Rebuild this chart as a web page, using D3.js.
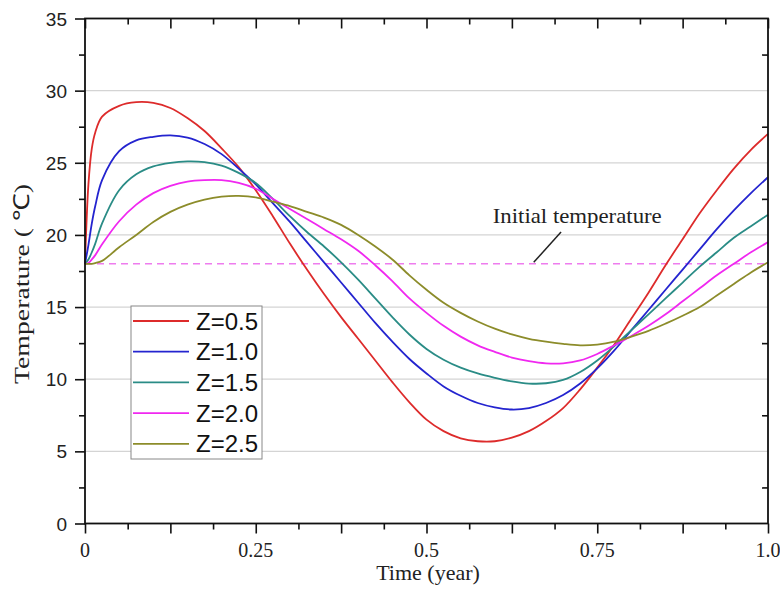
<!DOCTYPE html>
<html>
<head>
<meta charset="utf-8">
<script src="https://cdn.jsdelivr.net/npm/d3@7"></script>
<style>
  body { margin: 0; background: #fff; }
  svg { display: block; }
</style>
</head>
<body>
<div id="chart"></div>
<script>
// time axis (year) shared by every series
const times = [0, 0.005, 0.01, 0.015, 0.025, 0.05, 0.075, 0.1, 0.125, 0.15, 0.175, 0.2, 0.225, 0.25,
  0.275, 0.3, 0.325, 0.35, 0.375, 0.4, 0.425, 0.45, 0.475, 0.5, 0.525, 0.55, 0.575, 0.6, 0.625,
  0.65, 0.675, 0.7, 0.725, 0.75, 0.775, 0.8, 0.825, 0.85, 0.875, 0.9, 0.925, 0.95, 0.975, 1.0];

const z05 = [18, 23.5, 26.0, 27.1, 28.2, 28.95, 29.2, 29.15, 28.8, 28.1, 27.2, 26.0, 24.7, 23.1,
  21.3, 19.4, 17.6, 15.9, 14.3, 12.8, 11.3, 9.8, 8.4, 7.2, 6.4, 5.9, 5.7, 5.7,
  5.95, 6.4, 7.1, 8.0, 9.3, 10.8, 12.4, 14.2, 16.0, 17.9, 19.7, 21.5, 23.1, 24.6, 25.9, 27.0];
const z10 = [18, 19.3, 20.8, 22.0, 23.8, 25.8, 26.55, 26.8, 26.9, 26.75, 26.3, 25.6, 24.6, 23.5,
  22.2, 20.9, 19.5, 18.1, 16.7, 15.3, 13.9, 12.6, 11.4, 10.4, 9.5, 8.85, 8.35, 8.05,
  7.9, 8.0, 8.35, 8.9, 9.7, 10.75, 12.0, 13.4, 14.8, 16.2, 17.6, 19.0, 20.4, 21.7, 22.9, 24.0];
const z15 = [18, 18.3, 18.8, 19.4, 20.8, 23.1, 24.2, 24.75, 25.0, 25.1, 25.05, 24.8, 24.3, 23.6,
  22.5, 21.3, 20.2, 19.2, 18.1, 16.9, 15.6, 14.3, 13.1, 12.1, 11.35, 10.8, 10.4, 10.1,
  9.85, 9.7, 9.72, 9.95, 10.5, 11.3, 12.3, 13.4, 14.5, 15.6, 16.7, 17.8, 18.8, 19.8, 20.6, 21.4];
const z20 = [18, 18.05, 18.3, 18.6, 19.35, 20.95, 22.1, 22.9, 23.4, 23.7, 23.8, 23.8, 23.6, 23.2,
  22.5, 21.8, 21.1, 20.4, 19.7, 18.9, 17.9, 16.8, 15.6, 14.6, 13.7, 12.95, 12.35, 11.9,
  11.5, 11.25, 11.1, 11.1, 11.3, 11.75, 12.35, 13.0, 13.7, 14.5, 15.4, 16.3, 17.2, 18.0, 18.8, 19.5];
const z25 = [18, 18, 18, 18.05, 18.2, 19.15, 20.0, 20.9, 21.6, 22.1, 22.45, 22.65, 22.7, 22.6,
  22.3, 22.0, 21.6, 21.2, 20.7, 20.0, 19.2, 18.3, 17.2, 16.2, 15.3, 14.6, 14.0, 13.5,
  13.1, 12.8, 12.6, 12.45, 12.35, 12.4, 12.6, 12.95, 13.35, 13.85, 14.4, 15.0, 15.8, 16.6, 17.4, 18.1];

const seriesNames = ['Z=0.5', 'Z=1.0', 'Z=1.5', 'Z=2.0', 'Z=2.5'];
const seriesColors = ['#dd2b2b', '#2424cf', '#2a8c86', '#f028f0', '#8c8c2a'];
const seriesValues = [z05, z10, z15, z20, z25];

const initialTemp = 18;
const xTickLabels = ['0', '0.25', '0.5', '0.75', '1.0'];
const yTickValues = [0, 5, 10, 15, 20, 25, 30, 35];

const W = 780, H = 589;
const margin = {left: 85, right: 12, top: 18.5, bottom: 65.5};
const plotW = W - margin.left - margin.right;
const plotH = H - margin.top - margin.bottom;

const svg = d3.select('#chart').append('svg')
  .attr('width', W)
  .attr('height', H);

const g = svg.append('g')
  .attr('transform', `translate(${margin.left},${margin.top})`);

const x = d3.scaleLinear().domain([0, 1]).range([0, plotW]);
const y = d3.scaleLinear().domain([0, 35]).range([plotH, 0]);

// grid
g.append('g')
  .selectAll('line')
  .data(yTickValues.filter(d => d > 0 && d < 35))
  .enter()
  .append('line')
  .attr('x1', 0)
  .attr('x2', plotW)
  .attr('y1', d => y(d))
  .attr('y2', d => y(d))
  .attr('stroke', '#d4d4d4')
  .attr('stroke-width', 1.2);

// initial temperature
g.append('line')
  .attr('x1', 0)
  .attr('x2', plotW)
  .attr('y1', y(initialTemp))
  .attr('y2', y(initialTemp))
  .attr('stroke', '#ee7cee')
  .attr('stroke-width', 1.4)
  .attr('stroke-dasharray', '7,5');

// curves
const line = d3.line()
  .x((d, i) => x(times[i]))
  .y(d => y(d))
  .curve(d3.curveCatmullRom.alpha(0.5));

seriesValues.forEach((vals, k) => {
  g.append('path')
    .datum(vals)
    .attr('d', line)
    .attr('fill', 'none')
    .attr('stroke', seriesColors[k])
    .attr('stroke-width', 1.8);
});

// axes
const majorX = d3.range(0, 1.0001, 0.125);
const minorX = d3.range(0.0625, 1, 0.125);
const majorY = d3.range(0, 35.001, 5);
const minorY = d3.range(2.5, 35, 5);

g.append('g')
  .attr('transform', `translate(0,${plotH})`)
  .call(d3.axisBottom(x).tickValues(majorX).tickSize(10).tickFormat(''))
  .call(a => a.select('.domain').remove());
g.append('g')
  .attr('transform', `translate(0,${plotH})`)
  .call(d3.axisBottom(x).tickValues(minorX).tickSize(6).tickFormat(''))
  .call(a => a.select('.domain').remove());
g.append('g')
  .call(d3.axisBottom(x).tickValues(majorX).tickSize(10).tickFormat(''))
  .call(a => a.select('.domain').remove());
g.append('g')
  .call(d3.axisBottom(x).tickValues(minorX).tickSize(6).tickFormat(''))
  .call(a => a.select('.domain').remove());

g.append('g')
  .call(d3.axisLeft(y).tickValues(majorY).tickSize(10).tickFormat(''))
  .call(a => a.select('.domain').remove());
g.append('g')
  .call(d3.axisLeft(y).tickValues(minorY).tickSize(6).tickFormat(''))
  .call(a => a.select('.domain').remove());
g.append('g')
  .attr('transform', `translate(${plotW},0)`)
  .call(d3.axisLeft(y).tickValues(minorY).tickSize(6).tickFormat(''))
  .call(a => a.select('.domain').remove());

g.selectAll('.tick line').attr('stroke', '#111').attr('stroke-width', 1.6);

g.append('rect')
  .attr('x', 0)
  .attr('y', 0)
  .attr('width', plotW)
  .attr('height', plotH)
  .attr('fill', 'none')
  .attr('stroke', '#111')
  .attr('stroke-width', 1.8);

// tick labels
g.append('g')
  .selectAll('text')
  .data(majorY)
  .enter()
  .append('text')
  .attr('x', -18)
  .attr('y', d => y(d) + 7)
  .attr('text-anchor', 'end')
  .style('font-family', 'Liberation Sans, Arial, sans-serif')
  .style('font-size', '19px')
  .style('fill', '#222')
  .text(d => d);

g.append('g')
  .selectAll('text')
  .data(xTickLabels)
  .enter()
  .append('text')
  .attr('x', d => x(+d))
  .attr('y', plotH + 33)
  .attr('text-anchor', 'middle')
  .style('font-family', 'Liberation Serif, Times New Roman, serif')
  .style('font-size', '20px')
  .style('fill', '#222')
  .text(d => d);

// axis titles
svg.append('text')
  .attr('x', 428)
  .attr('y', 580)
  .attr('text-anchor', 'middle')
  .style('font-family', 'Liberation Serif, Times New Roman, serif')
  .style('font-size', '22px')
  .style('fill', '#222')
  .text('Time (year)');

svg.append('text')
  .attr('transform', 'translate(29,284) rotate(-90)')
  .attr('text-anchor', 'middle')
  .attr('textLength', 200)
  .attr('lengthAdjust', 'spacingAndGlyphs')
  .style('font-family', 'Liberation Serif, Times New Roman, serif')
  .style('font-size', '22px')
  .style('fill', '#222')
  .text('Temperature ( \u2103)');

// annotation
g.append('line')
  .attr('x1', x(0.657))
  .attr('y1', y(18.1))
  .attr('x2', x(0.697))
  .attr('y2', y(20.2))
  .attr('stroke', '#222')
  .attr('stroke-width', 1.5);
g.append('text')
  .attr('x', x(0.597))
  .attr('y', y(20.8))
  .attr('textLength', 169)
  .attr('lengthAdjust', 'spacingAndGlyphs')
  .style('font-family', 'Liberation Serif, Times New Roman, serif')
  .style('font-size', '21px')
  .style('fill', '#222')
  .text('Initial temperature');

// legend
const legend = svg.append('g').attr('transform', 'translate(131,306)');
legend.append('rect')
  .attr('width', 131)
  .attr('height', 153)
  .attr('fill', '#fff')
  .attr('stroke', '#888')
  .attr('stroke-width', 1);
seriesNames.forEach((name, i) => {
  const ly = 15 + i * 30.7;
  legend.append('line')
    .attr('x1', 2)
    .attr('x2', 58)
    .attr('y1', ly)
    .attr('y2', ly)
    .attr('stroke', seriesColors[i])
    .attr('stroke-width', 1.8);
  legend.append('text')
    .attr('x', 65)
    .attr('y', ly + 8.5)
    .style('font-family', 'Liberation Sans, Arial, sans-serif')
    .style('font-size', '24px')
    .style('fill', '#111')
    .text(name);
});
</script>
</body>
</html>
